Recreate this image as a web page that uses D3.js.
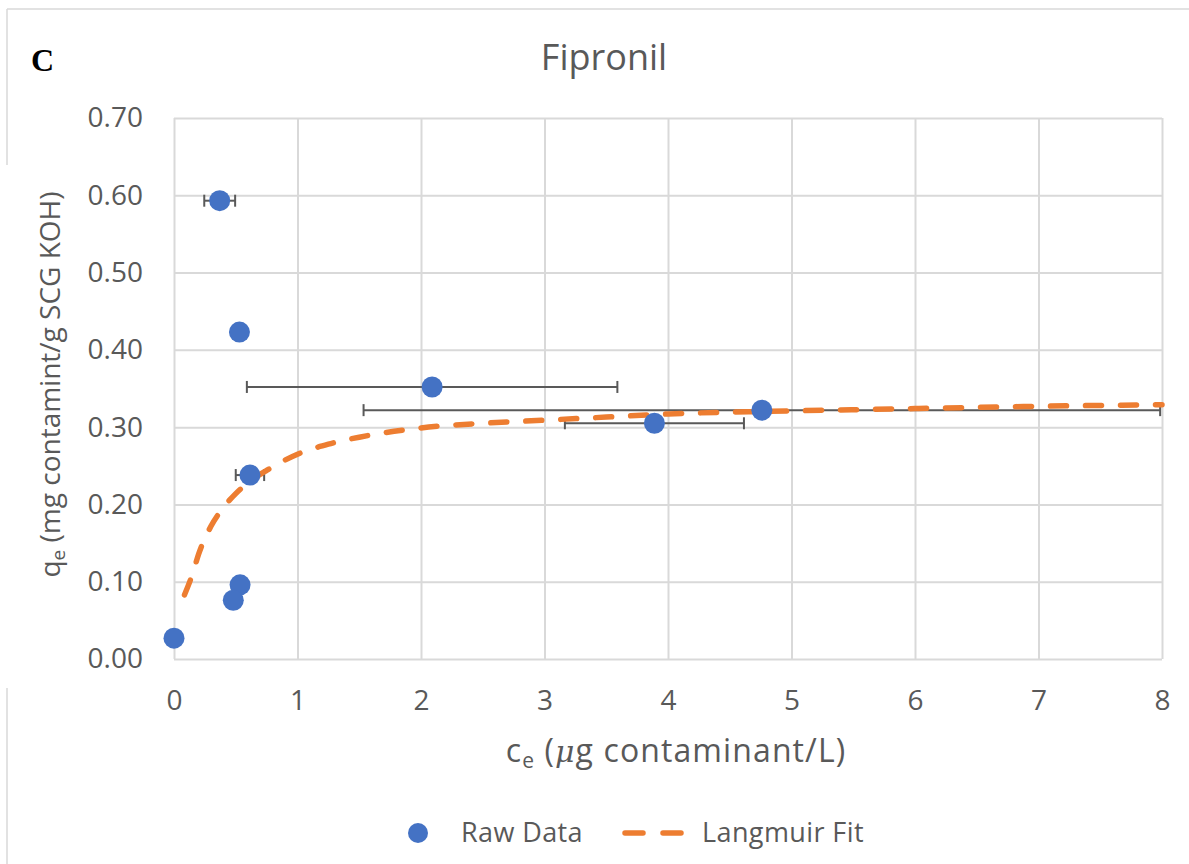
<!DOCTYPE html>
<html>
<head>
<meta charset="utf-8">
<script src="https://cdn.jsdelivr.net/npm/d3@7"></script>
<style>
  html, body { margin: 0; padding: 0; background: #fff; }
  svg { display: block; }
  text { font-family: "Open Sans", "Noto Sans", sans-serif; fill: #595959; }
</style>
</head>
<body>
<svg id="chart" width="1189" height="864"></svg>
<script>
// Raw adsorption data (equilibrium concentration vs. uptake) with x-error
const ceRaw  = [0.00, 0.37, 0.53, 2.09, 3.89, 4.76, 0.615, 0.535, 0.48];
const qeRaw  = [0.027, 0.593, 0.423, 0.352, 0.305, 0.322, 0.238, 0.096, 0.076];
const ceErr  = [0, 0.125, 0, 1.50, 0.725, 3.225, 0.115, 0, 0];

// Langmuir fit curve
const ceFit = [0.085, 0.15, 0.2, 0.3, 0.4, 0.5, 0.6, 0.75, 1.0, 1.25, 1.5, 2.0, 2.5, 3.0, 3.5, 4.0, 5.0, 6.0, 7.0, 8.0];
const qeFit = [0.083, 0.110, 0.136, 0.172, 0.196, 0.214, 0.228, 0.244, 0.265, 0.278, 0.287, 0.299, 0.305, 0.309, 0.313, 0.317, 0.321, 0.324, 0.327, 0.329];

// Axis ticks
const xTicks = [0, 1, 2, 3, 4, 5, 6, 7, 8];
const yTicks = [0, 0.1, 0.2, 0.3, 0.4, 0.5, 0.6, 0.7];

const titleText = "Fipronil";
const panelLabel = "C";
const seriesNames = ["Raw Data", "Langmuir Fit"];

const blue = "#4472C4", orange = "#ED7D31", grid = "#d9d9d9", ink = "#595959";

const svg = d3.select("#chart");
const plot = { left: 174, right: 1162, top: 118, bottom: 659 };

const x = d3.scaleLinear().domain([0, 8]).range([plot.left, plot.right]);
const y = d3.scaleLinear().domain([0, 0.7]).range([plot.bottom, plot.top]);

// Outer frame (top and left edges)
svg.append("line").attr("x1", 7).attr("x2", 1189).attr("y1", 9).attr("y2", 9)
  .attr("stroke", "#d9d9d9").attr("stroke-width", 1.5);
svg.append("line").attr("x1", 7).attr("x2", 7).attr("y1", 9).attr("y2", 165)
  .attr("stroke", "#d9d9d9").attr("stroke-width", 1.5);
svg.append("line").attr("x1", 7).attr("x2", 7).attr("y1", 688).attr("y2", 864)
  .attr("stroke", "#d9d9d9").attr("stroke-width", 1.5);

// Gridlines
svg.append("g")
  .attr("transform", `translate(0,${plot.bottom})`)
  .call(d3.axisBottom(x).tickValues(xTicks).tickSize(-(plot.bottom - plot.top)).tickFormat(""))
  .call(g => g.select(".domain").remove())
  .call(g => g.selectAll("line").attr("stroke", grid).attr("stroke-width", 2));
svg.append("g")
  .attr("transform", `translate(${plot.left},0)`)
  .call(d3.axisLeft(y).tickValues(yTicks).tickSize(-(plot.right - plot.left)).tickFormat(""))
  .call(g => g.select(".domain").remove())
  .call(g => g.selectAll("line").attr("stroke", grid).attr("stroke-width", 2));

// Tick labels
const xAxis = svg.append("g")
  .attr("transform", `translate(0,${plot.bottom})`)
  .call(d3.axisBottom(x).tickValues(xTicks).tickSize(0).tickPadding(31).tickFormat(d3.format("d")));
xAxis.select(".domain").remove();
xAxis.selectAll("text").attr("font-size", 28).attr("fill", ink)
  .style("font-family", '"Open Sans", sans-serif');

const yAxis = svg.append("g")
  .attr("transform", `translate(${plot.left},0)`)
  .call(d3.axisLeft(y).tickValues(yTicks).tickSize(0).tickPadding(31).tickFormat(d3.format(".2f")));
yAxis.select(".domain").remove();
yAxis.selectAll("text").attr("font-size", 28).attr("fill", ink)
  .style("font-family", '"Open Sans", sans-serif');

// Horizontal error bars
const errG = svg.append("g").attr("stroke", ink).attr("stroke-width", 2);
ceRaw.forEach((c, i) => {
  const e = ceErr[i];
  if (!e) return;
  const yy = y(qeRaw[i]);
  errG.append("line").attr("x1", x(c - e)).attr("x2", x(c + e)).attr("y1", yy).attr("y2", yy);
  [c - e, c + e].forEach(v => {
    errG.append("line").attr("x1", x(v)).attr("x2", x(v)).attr("y1", yy - 6).attr("y2", yy + 6);
  });
});

// Langmuir fit (dashed)
const fitPts = ceFit.map((c, i) => [c, qeFit[i]]);
svg.append("path")
  .datum(fitPts)
  .attr("d", d3.line().x(d => x(d[0])).y(d => y(d[1])).curve(d3.curveMonotoneX))
  .attr("fill", "none")
  .attr("stroke", orange)
  .attr("stroke-width", 5.5)
  .attr("stroke-linecap", "round")
  .attr("stroke-dasharray", "16 19");

// Raw data markers
svg.append("g").selectAll("circle")
  .data(ceRaw.map((c, i) => [c, qeRaw[i]]))
  .join("circle")
  .attr("cx", d => x(d[0]))
  .attr("cy", d => y(d[1]))
  .attr("r", 10.5)
  .attr("fill", blue);

// Title and panel label
svg.append("text").attr("x", 604).attr("y", 70).attr("text-anchor", "middle")
  .attr("font-size", 36).text(titleText);
svg.append("text").attr("x", 31).attr("y", 71)
  .style("font-family", '"Liberation Serif", "Times New Roman", serif')
  .attr("font-weight", "bold").attr("font-size", 32)
  .style("fill", "#000").text(panelLabel);

// Axis titles
const xt = svg.append("text").attr("x", 676).attr("y", 762).attr("text-anchor", "middle")
  .attr("font-size", 32).attr("letter-spacing", 1.1);
xt.append("tspan").text("c");
xt.append("tspan").attr("font-size", 21).attr("dy", 6).text("e");
xt.append("tspan").attr("dy", -6).text(" (");
xt.append("tspan").style("font-style", "italic").style("font-family", '"DejaVu Serif", serif').attr("font-size", 30).text("μ");
xt.append("tspan").text("g contaminant/L)");

const yt = svg.append("text")
  .attr("transform", `translate(60,${(plot.top + plot.bottom) / 2 - 4}) rotate(-90)`)
  .attr("text-anchor", "middle").attr("font-size", 28);
yt.append("tspan").text("q");
yt.append("tspan").attr("font-size", 19).attr("dy", 5).text("e");
yt.append("tspan").attr("dy", -5).text(" (mg contamint/g SCG KOH)");

// Legend
const lg = svg.append("g");
lg.append("circle").attr("cx", 418).attr("cy", 833).attr("r", 10).attr("fill", blue);
lg.append("text").attr("x", 461).attr("y", 842).attr("font-size", 27).attr("letter-spacing", 0.4).text(seriesNames[0]);
lg.append("line").attr("x1", 625).attr("x2", 683).attr("y1", 833).attr("y2", 833)
  .attr("stroke", orange).attr("stroke-width", 5.5).attr("stroke-linecap", "round")
  .attr("stroke-dasharray", "18 20");
lg.append("text").attr("x", 702).attr("y", 842).attr("font-size", 27).attr("letter-spacing", 0.4).text(seriesNames[1]);
</script>
</body>
</html>
